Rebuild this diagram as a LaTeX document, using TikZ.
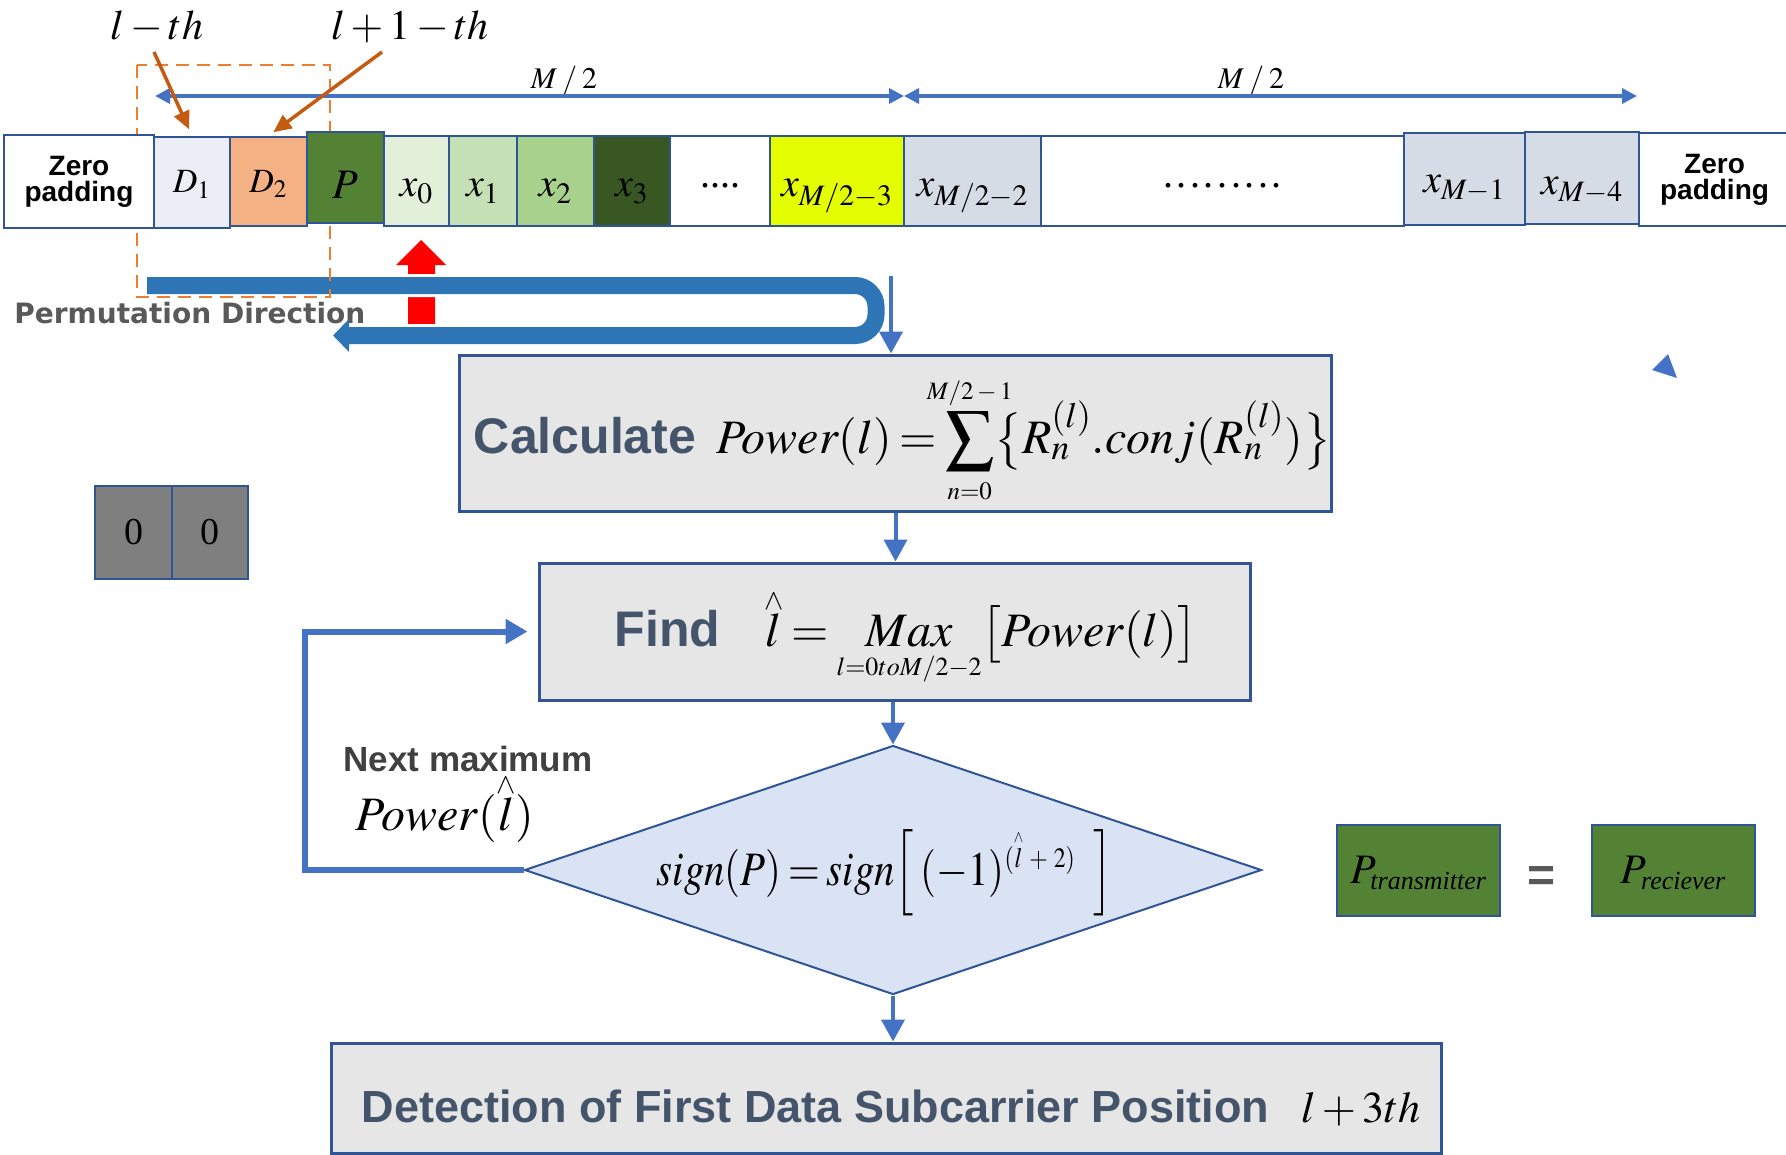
\documentclass[tikz,border=0pt]{standalone}
\usepackage{amsmath}
\usepackage{mathptmx}
\usepackage{graphicx}
\usepackage[no-math]{fontspec}
\setmainfont{Liberation Serif}
\setsansfont{Liberation Sans}
\newfontfamily\dejavu{DejaVu Sans}
\usetikzlibrary{arrows.meta,shapes.geometric}

\definecolor{bdr}{HTML}{2F5597}
\definecolor{flowblue}{HTML}{4472C4}
\definecolor{bandblue}{HTML}{2E75B6}
\definecolor{boxgray}{HTML}{E7E6E6}
\definecolor{slate}{HTML}{44546A}
\definecolor{diafill}{HTML}{DAE3F3}
\definecolor{pgreen}{HTML}{548235}
\definecolor{rust}{HTML}{C55A11}
\definecolor{dashorange}{HTML}{ED7D31}
\definecolor{donefill}{HTML}{EBEEF4}
\definecolor{dtwofill}{HTML}{F4B183}
\definecolor{gA}{HTML}{E2F0D9}
\definecolor{gB}{HTML}{C5E0B4}
\definecolor{gC}{HTML}{A9D18E}
\definecolor{gD}{HTML}{385723}
\definecolor{lime}{HTML}{E4FD00}
\definecolor{steel}{HTML}{D6DCE5}
\definecolor{zerogray}{HTML}{7F7F7F}
\definecolor{labelgray}{HTML}{595959}
\definecolor{darkgray}{HTML}{404040}

% tight spacing around relations, as in the equation editor
\thickmuskip=3mu

\newcommand{\setsz}[1]{\fontsize{#1}{#1}\selectfont}
\newcommand{\mathsz}{\fontsize{24}{26}\selectfont}
% l with a small caret set a little lower than \overset would put it
\newcommand{\lhat}{\overset{\raisebox{-3pt}[0pt][0pt]{$\scriptscriptstyle\wedge$}}{l}}
\newcommand{\lhatsmall}{\overset{\scriptscriptstyle\wedge}{l}}
\newcommand{\limtext}[1]{\mbox{\fontsize{12.5}{13}\selectfont$#1$}}

\begin{document}
\begin{tikzpicture}[x=0.5pt,y=-0.5pt,
  cellbox/.style={draw=bdr,line width=1.25pt,inner sep=0pt,anchor=center},
  procbox/.style={draw=bdr,line width=1.5pt,fill=boxgray,inner sep=0pt},
  zerotext/.style={font=\sffamily\bfseries\fontsize{14}{13}\selectfont,align=center},
  flow/.style={draw=flowblue,line width=2pt,-{Triangle[width=11.5pt,length=11pt]}},
  loopln/.style={draw=flowblue,line width=3pt,-{Triangle[width=12pt,length=11pt]},shorten >=5pt},
  spanarrow/.style={draw=flowblue,line width=1.75pt,
    {Triangle[width=7.5pt,length=7.5pt]}-{Triangle[width=7.5pt,length=7.5pt]}},
  pointer/.style={draw=rust,line width=1.75pt,-{Triangle[width=8pt,length=9pt]}},
  plain/.style={inner sep=0pt}
]
\useasboundingbox (0,0) rectangle (1786,1155);

% ---- labels above the subcarrier row
\node[plain,anchor=base] (lth) at (157,40) {\setsz{21}$l-th$};
\node[plain,anchor=base] (lpth) at (410,40) {\setsz{21}$l+1-th$};
\node[plain,anchor=base] (halfL) at (564,89) {\setsz{15}$M\mskip3mu/\mskip3mu2$};
\node[plain,anchor=base] (halfR) at (1251,89) {\setsz{15}$M\mskip3mu/\mskip3mu2$};

\coordinate (spanL) at (155,96);
\coordinate (spanC) at (904,96);
\coordinate (spanR) at (1637,96);
\draw[spanarrow] (spanL) -- (spanC);
\draw[spanarrow] (spanC) -- (spanR);

% ---- permutation band with the red marker
\fill[red] (408,324) -- (408,265) -- (396,265) -- (421,240) -- (446,265)
  -- (435,265) -- (435,324) -- cycle;
\node[plain,anchor=base west,text=labelgray,font=\dejavu\bfseries\fontsize{14}{14}\selectfont]
  (permlabel) at (14,323) {Permutation Direction};
\draw[white,line width=11.5pt,rounded corners=10.5pt]
  (147,285.5) -- (876,285.5) -- (876,335.5) -- (349,335.5);
\draw[bandblue,line width=8.5pt,rounded corners=10.5pt,-{Triangle[width=16pt,length=8pt]}]
  (147,285.5) -- (876,285.5) -- (876,335.5) -- (333,335.5);

% ---- window around the two data subcarriers
\draw[dashorange,line width=1.25pt,dash pattern=on 6.5pt off 4pt] (137,65) rectangle (330,297);

% ---- subcarrier row
\node[cellbox,fill=white,minimum width=75pt,minimum height=46.5pt,zerotext] (zpL) at (79,181.5) {Zero\\padding};
\node[cellbox,fill=donefill,minimum width=38pt,minimum height=45.5pt,text height=10.5pt,text depth=0pt] (d1) at (192,182.5) {\setsz{17}$D_1$};
\node[cellbox,fill=dtwofill,minimum width=38.5pt,minimum height=44.5pt,text height=10.5pt,text depth=0pt] (d2) at (268.5,181.5) {\setsz{17}$D_2$};
\node[cellbox,fill=pgreen,minimum width=38.5pt,minimum height=45.5pt,text height=21pt,text depth=0pt] (pc) at (345.5,177.5) {\setsz{21}$P$};
\node[cellbox,fill=gA,minimum width=32.5pt,minimum height=45pt,text height=16pt,text depth=0pt] (xz) at (416.5,181) {\setsz{20}$x_0$};
\node[cellbox,fill=gB,minimum width=34pt,minimum height=45pt,text height=16pt,text depth=0pt] (xo) at (483,181) {\setsz{20}$x_1$};
\node[cellbox,fill=gC,minimum width=38.5pt,minimum height=45pt,text height=16pt,text depth=0pt] (xt) at (555.5,181) {\setsz{20}$x_2$};
\node[cellbox,fill=gD,minimum width=38pt,minimum height=45pt,text height=16pt,text depth=0pt] (xth) at (632,181) {\setsz{20}$x_3$};
\node[cellbox,fill=white,minimum width=50pt,minimum height=45pt,text height=7pt,text depth=0pt] (dtA) at (720,181) {\setsz{20}....};
\node[cellbox,fill=lime,minimum width=67pt,minimum height=45pt,text height=16pt,text depth=0pt] (xa) at (837,181) {\setsz{20}$x_{M/2-3}$};
\node[cellbox,fill=steel,minimum width=68.5pt,minimum height=45pt,text height=16pt,text depth=0pt] (xb) at (972.5,181) {\setsz{20}$x_{M/2-2}$};
\node[cellbox,fill=white,minimum width=181.5pt,minimum height=45pt,text height=7pt,text depth=0pt] (dtB) at (1222.5,181) {\setsz{20}.\kern1.8pt.\kern1.8pt.\kern1.8pt.\kern1.8pt.\kern1.8pt.\kern1.8pt.\kern1.8pt.\kern1.8pt.};
\node[cellbox,fill=steel,minimum width=60.5pt,minimum height=46pt,text height=14pt,text depth=0pt] (xc) at (1464.5,179) {\setsz{20}$x_{M-1}$};
\node[cellbox,fill=steel,minimum width=57pt,minimum height=46pt,text height=17pt,text depth=0pt] (xd) at (1582,178) {\setsz{20}$x_{M-4}$};
\node[cellbox,fill=white,minimum width=75.5pt,minimum height=46.5pt,zerotext] (zpR) at (1714.5,179.5) {Zero\\padding};

% ---- pointers from the labels to the data subcarriers
\coordinate (lthfoot) at (154,52);
\coordinate (lpthfoot) at (382,52);
\draw[pointer,shorten >=3.5pt] (lthfoot) -- (d1.north);
\draw[pointer,shorten >=3pt] (lpthfoot) -- (d2.north);

% ---- zero pair
\node[cellbox,fill=zerogray,minimum width=38.5pt,minimum height=46.5pt,text height=11.5pt,text depth=0pt] (zA) at (133.5,532.5) {\setsz{19}0};
\node[cellbox,fill=zerogray,minimum width=38pt,minimum height=46.5pt,text height=11.5pt,text depth=0pt] (zB) at (210,532.5) {\setsz{19}0};

% ---- processing chain
\node[procbox,minimum width=435.5pt,minimum height=78pt,text height=20pt,text depth=0pt] (calc) at (895.5,433)
  {\hspace*{7pt}{\sffamily\bfseries\fontsize{25}{26}\selectfont\color{slate}Calculate}\hspace{10pt}{\mathsz$Power(l)=\displaystyle\sum_{\makebox[0pt]{\limtext{n{=}0}}}^{\makebox[0pt]{\limtext{M/2-1}}}\bigl\{R_n^{(l)}.conj(R_n^{(l)})\bigr\}$}};

\node[procbox,minimum width=355.5pt,minimum height=68.5pt,text height=14.5pt,text depth=0pt] (find) at (894.5,631.5)
  {\hspace*{11.5pt}{\sffamily\bfseries\fontsize{25}{26}\selectfont\color{slate}Find}\hspace{22pt}{\mathsz$\lhat=\mathop{Max}\limits_{\mbox{\fontsize{13}{13}\selectfont$l{=}0toM/2{-}2$}}\bigl[Power(l)\bigr]$}};

\node[diamond,draw=bdr,line width=1pt,fill=diafill,minimum width=368.5pt,minimum height=124.5pt,inner sep=0pt] (dia) at (893,870) {};
\node[plain,anchor=base] (diatxt) at (885,885)
  {\scalebox{0.85}[1]{\mathsz$sign(P)=sign\Bigl[\mskip3mu(-1)^{\mbox{\fontsize{14}{14}\selectfont$(\lhatsmall\mskip2mu+\mskip2mu2)$}}\mskip8mu\Bigr]$}};

\node[procbox,minimum width=555pt,minimum height=55pt,text height=24pt,text depth=0pt] (det) at (886,1098)
  {\hspace*{5pt}{\sffamily\bfseries\fontsize{22.5}{24}\selectfont\color{slate}Detection of First Data Subcarrier Position}\hspace{16pt}{\setsz{22}$l+3th$}};

\coordinate (tap) at (891,276);
\draw[flow] (tap) -- (tap |- calc.north);
\draw[flow] (calc.south) -- (calc.south |- find.north);
\draw[flow] (find.south -| dia.north) -- (dia.north);
\draw[flow] (dia.south) -- (dia.south |- det.north);

% ---- feedback to the next maximum
\coordinate (loopcorner) at (305,870);
\draw[loopln] (dia.west) -- (loopcorner) |- (find.west);
\node[plain,anchor=base,text=darkgray,font=\sffamily\bfseries\fontsize{17.5}{18}\selectfont] (nextmax) at (468,771) {Next maximum};
\node[plain,anchor=base] (powhat) at (445,830) {\mathsz$Power(\lhat)$};

% ---- pilot comparison
\node[cellbox,fill=pgreen,minimum width=81.5pt,minimum height=45.5pt,text height=12.5pt,text depth=0pt] (ptx) at (1418.5,870.5)
  {\setsz{21}$P_{\mbox{\fontsize{13}{13}\selectfont\itshape transmitter}}$};
\node[plain,text=labelgray,font=\sffamily\bfseries\fontsize{24}{24}\selectfont] (eqsign) at (1541,879) {=};
\node[cellbox,fill=pgreen,minimum width=81.5pt,minimum height=45.5pt,text height=12.5pt,text depth=0pt] (prx) at (1673.5,870.5)
  {\setsz{21}$P_{\mbox{\fontsize{13}{13}\selectfont\itshape reciever}}$};

% ---- small pointer head
\fill[flowblue] (1652,370) -- (1668,354) -- (1677,378) -- cycle;
\end{tikzpicture}
\end{document}
